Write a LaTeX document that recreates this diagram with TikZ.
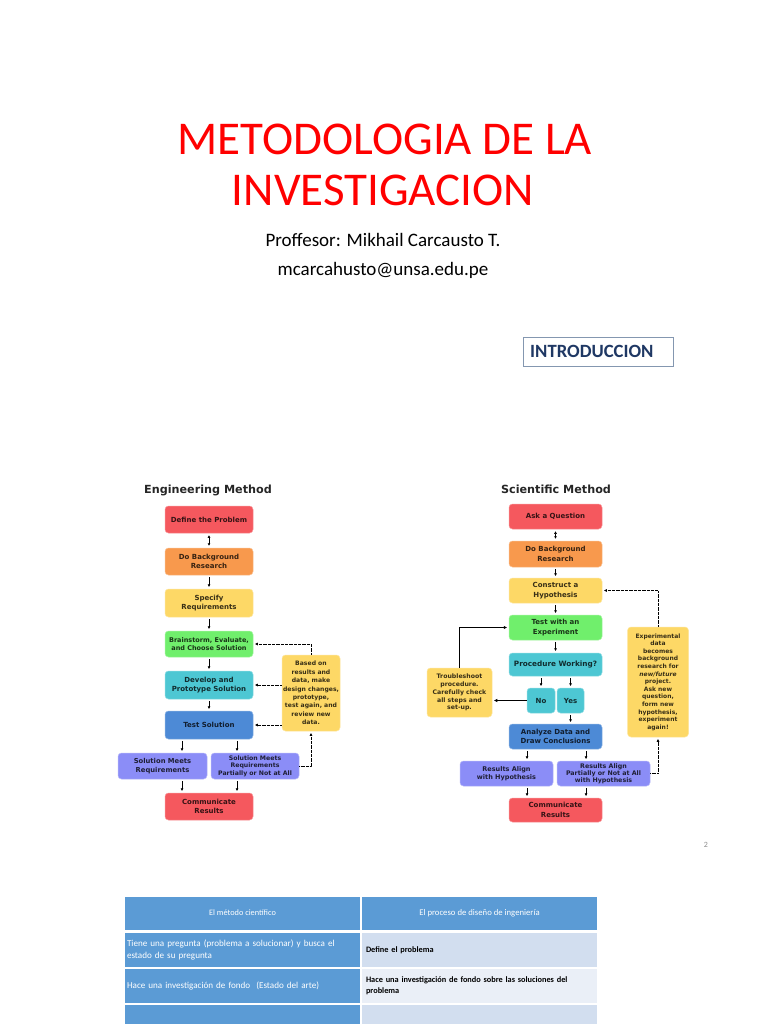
\documentclass[tikz,border=0pt]{standalone}
\usepackage{fontspec}
\setmainfont{Carlito}
\newfontfamily\dvs{DejaVu Sans}
\usetikzlibrary{arrows.meta,calc}
\definecolor{cRed}{HTML}{F5585E}
\definecolor{cOrange}{HTML}{F8994D}
\definecolor{cYellow}{HTML}{FDD866}
\definecolor{cGreen}{HTML}{70EF6C}
\definecolor{cCyan}{HTML}{4DC7D3}
\definecolor{cBlue}{HTML}{4D8AD6}
\definecolor{cPeri}{HTML}{8B8DF7}
\definecolor{titleRed}{HTML}{FF0000}
\definecolor{introBlue}{HTML}{1F3864}
\definecolor{introBorder}{HTML}{8497B0}
\definecolor{tblBlue}{HTML}{5B9BD5}
\definecolor{tblLight}{HTML}{D2DEEF}
\definecolor{tblLighter}{HTML}{EAEFF7}
\newcommand\flowtxt{\dvs\bfseries\fontsize{7}{9.5}\selectfont}
\begin{document}
\begin{tikzpicture}[x=1pt,y=-1pt,
  flow/.style={rounded corners=3.5pt, fill=#1, draw=#1!65!white, line width=0.5pt,
    inner sep=0pt, align=center, font=\flowtxt, text=#1!22!black},
  arr/.style={-{Latex[length=3pt,width=3pt]}, line width=0.8pt, shorten <=2pt, shorten >=1.5pt},
  darr/.style={{Latex[length=2.5pt,width=3pt]}-{Latex[length=2.5pt,width=3pt]}, line width=0.8pt, shorten <=2pt, shorten >=2pt},
  dotarr/.style={-{Latex[length=3pt,width=3pt]}, line width=0.7pt, dash pattern=on 0.7pt off 0.6pt, shorten >=1.5pt},
  solarr/.style={-{Latex[length=3.5pt,width=3.5pt]}, line width=1.2pt, shorten >=1.5pt},
  cell/.style={fill=#1, inner sep=0pt, minimum height=34pt, font=\fontsize{9.1}{11.5}\selectfont},
  hcell/.style={fill=tblBlue, inner sep=0pt, minimum width=235pt, minimum height=33pt, text=white, text height=6pt, text depth=2pt},
  ]
\useasboundingbox (0,0) rectangle (768,1024);
\fill[white] (0,0) rectangle (768,1024);

% Title
\node[anchor=base, text=titleRed, font=\fontsize{47}{50}\selectfont] (t1) at (385,155) {METODOLOGIA DE LA};
\node[anchor=base, text=titleRed, font=\fontsize{47}{50}\selectfont] (t2) at (383,206) {INVESTIGACION};
\node[anchor=base, font=\fontsize{19}{21}\selectfont] (prof) at (383,246) {Proffesor: Mikhail Carcausto T.};
\node[anchor=base, font=\fontsize{19}{21}\selectfont] (mail) at (383,275) {mcarcahusto@unsa.edu.pe};
\node[draw=introBorder, line width=0.8pt, minimum width=150pt, minimum height=29pt, inner sep=0pt] (introbox) at (598,351.5) {};
\node[anchor=west, text=introBlue, font=\bfseries\fontsize{18.7}{20}\selectfont, inner sep=0pt] (intro) at (530,351.5) {INTRODUCCION};

% Engineering method
\node[font=\dvs\bfseries\fontsize{11.2}{13}\selectfont, text=black!85] (etitle) at (208,490) {Engineering Method};
\node[flow=cRed, minimum width=88pt, minimum height=27pt] (e1) at (209,519.5) {Define the Problem};
\node[flow=cOrange, minimum width=88pt, minimum height=27pt] (e2) at (209,561.5) {Do Background\\Research};
\node[flow=cYellow, minimum width=88pt, minimum height=28pt] (e3) at (209,603) {Specify\\Requirements};
\node[flow=cGreen, minimum width=88pt, minimum height=26pt, font=\dvs\bfseries\fontsize{6.5}{8.3}\selectfont] (e4) at (209,644) {Brainstorm, Evaluate,\\and Choose Solution};
\node[flow=cCyan, minimum width=88pt, minimum height=28pt] (e5) at (209,685) {Develop and\\Prototype Solution};
\node[flow=cBlue, minimum width=88pt, minimum height=28pt] (e6) at (209,725) {Test Solution};
\node[flow=cPeri, minimum width=89pt, minimum height=26pt, font=\dvs\bfseries\fontsize{6.8}{8.8}\selectfont] (e7) at (162.5,766) {Solution Meets\\Requirements};
\node[flow=cPeri, minimum width=88pt, minimum height=26pt, font=\dvs\bfseries\fontsize{6.2}{7.4}\selectfont] (e8) at (255,766) {Solution Meets\\Requirements\\Partially or Not at All};
\node[flow=cRed, minimum width=88pt, minimum height=27pt] (e9) at (209,806.5) {Communicate\\Results};
\node[flow=cYellow, minimum width=58pt, minimum height=76pt, font=\dvs\bfseries\fontsize{6.1}{8.4}\selectfont] (en) at (311,693) {Based on\\results and\\data, make\\design changes,\\prototype,\\test again, and\\review new\\data.};

\draw[darr] (e1) -- (e2);
\draw[arr] (e2) -- (e3);
\draw[arr] (e3) -- (e4);
\draw[arr] (e4) -- (e5);
\draw[arr] (e5) -- (e6);
\draw[arr] ([xshift=-27pt]e6.south) -- ([xshift=-27pt]e6.south |- e7.north);
\draw[arr] ([xshift=28pt]e6.south) -- ([xshift=28pt]e6.south |- e8.north);
\draw[arr] ([xshift=-27pt]e9.north |- e7.south) -- ([xshift=-27pt]e9.north);
\draw[arr] ([xshift=28pt]e9.north |- e8.south) -- ([xshift=28pt]e9.north);
\draw[dotarr] (en.north) |- (e4.east);
\draw[dotarr] (en.west |- e5.east) -- (e5.east);
\draw[dotarr] (en.west |- e6.east) -- (e6.east);
\draw[dotarr] (e8.east) -| (en.south);

% Scientific method
\node[font=\dvs\bfseries\fontsize{11.2}{13}\selectfont, text=black!85] (stitle) at (556,489) {Scientific Method};
\node[flow=cRed, minimum width=93pt, minimum height=25pt] (s1) at (555.5,516.5) {Ask a Question};
\node[flow=cOrange, minimum width=93pt, minimum height=26pt] (s2) at (555.5,554) {Do Background\\Research};
\node[flow=cYellow, minimum width=93pt, minimum height=25pt] (s3) at (555.5,590.5) {Construct a\\Hypothesis};
\node[flow=cGreen, minimum width=93pt, minimum height=25pt] (s4) at (555.5,627.5) {Test with an\\Experiment};
\node[flow=cCyan, minimum width=93pt, minimum height=23pt, font=\dvs\bfseries\fontsize{7.3}{9}\selectfont] (s5) at (555.5,664.5) {Procedure Working?};
\node[flow=cCyan, minimum width=28pt, minimum height=25pt] (s6) at (541,700.5) {No};
\node[flow=cCyan, minimum width=27pt, minimum height=25pt] (s7) at (570.5,700.5) {Yes};
\node[flow=cBlue, minimum width=93pt, minimum height=25pt] (s8) at (555.5,736.5) {Analyze Data and\\Draw Conclusions};
\node[flow=cPeri, minimum width=93pt, minimum height=25pt, font=\dvs\bfseries\fontsize{6.5}{7.8}\selectfont] (s9) at (506.5,773.5) {Results Align\\with Hypothesis};
\node[flow=cPeri, minimum width=93pt, minimum height=25pt, font=\dvs\bfseries\fontsize{6.3}{6.8}\selectfont] (s10) at (603.5,773.5) {Results Align\\Partially or Not at All\\with Hypothesis};
\node[flow=cRed, minimum width=93pt, minimum height=24pt] (s11) at (555.5,810) {Communicate\\Results};
\node[flow=cYellow, minimum width=65pt, minimum height=49pt, font=\dvs\bfseries\fontsize{6.2}{7.8}\selectfont] (st) at (459.5,692.5) {Troubleshoot\\procedure.\\Carefully check\\all steps and\\set-up.};
\node[flow=cYellow, minimum width=61pt, minimum height=110pt, font=\dvs\bfseries\fontsize{6}{7.6}\selectfont] (sx) at (658,682) {Experimental\\data\\becomes\\background\\research for\\\textit{new/future}\\project.\\Ask new\\question,\\form new\\hypothesis,\\experiment\\again!};

\draw[darr] (s1) -- (s2);
\draw[arr] (s2) -- (s3);
\draw[arr] (s3) -- (s4);
\draw[arr] (s4) -- (s5);
\draw[arr] (s5.south -| s6.north) -- (s6.north);
\draw[arr] (s5.south -| s7.north) -- (s7.north);
\draw[arr] (s7.south) -- (s7.south |- s8.north);
\draw[arr] ([xshift=-28.5pt]s8.south) -- ([xshift=-28.5pt]s8.south |- s9.north);
\draw[arr] ([xshift=30.5pt]s8.south) -- ([xshift=30.5pt]s8.south |- s10.north);
\draw[arr] ([xshift=-28.5pt]s11.north |- s9.south) -- ([xshift=-28.5pt]s11.north);
\draw[arr] ([xshift=30.5pt]s11.north |- s10.south) -- ([xshift=30.5pt]s11.north);
\draw[solarr] (s6.west) -- (s6.west -| st.east);
\draw[solarr] (st.north) |- (s4.west);
\draw[dotarr] (sx.north) |- (s3.east);
\draw[dotarr] (s10.east) -| (sx.south);

% page number
\node[text=black!45, font=\fontsize{8}{9}\selectfont] (pg) at (706,845) {2};

% Table
\node[hcell, font=\fontsize{8.3}{10}\selectfont] (h1) at (242.5,913.5) {El método científico};
\node[hcell, font=\fontsize{8.7}{10}\selectfont] (h2) at (479.5,913.5) {El proceso de diseño de ingeniería};
\node[cell=tblBlue, minimum width=235pt, text=white, text width=231pt, align=left, inner xsep=2pt] (r1a) at (242.5,950) {Tiene una pregunta (problema a solucionar) y busca el\\estado de su pregunta};
\node[cell=tblLight, minimum width=235pt, text width=227pt, align=left, inner xsep=4pt, font=\bfseries\fontsize{8.3}{11}\selectfont] (r1b) at (479.5,950) {Define el problema};
\node[cell=tblBlue, minimum width=235pt, text=white, text width=231pt, align=left, inner xsep=2pt] (r2a) at (242.5,986) {Hace una investigación de fondo~~(Estado del arte)};
\node[cell=tblLighter, minimum width=235pt, text width=227pt, align=left, inner xsep=4pt, font=\bfseries\fontsize{8.3}{11}\selectfont] (r2b) at (479.5,986) {Hace una investigación de fondo sobre las soluciones del\\problema};
\node[cell=tblBlue, minimum width=235pt, minimum height=20pt] (r3a) at (242.5,1015) {};
\node[cell=tblLight, minimum width=235pt, minimum height=20pt] (r3b) at (479.5,1015) {};
\end{tikzpicture}
\end{document}
